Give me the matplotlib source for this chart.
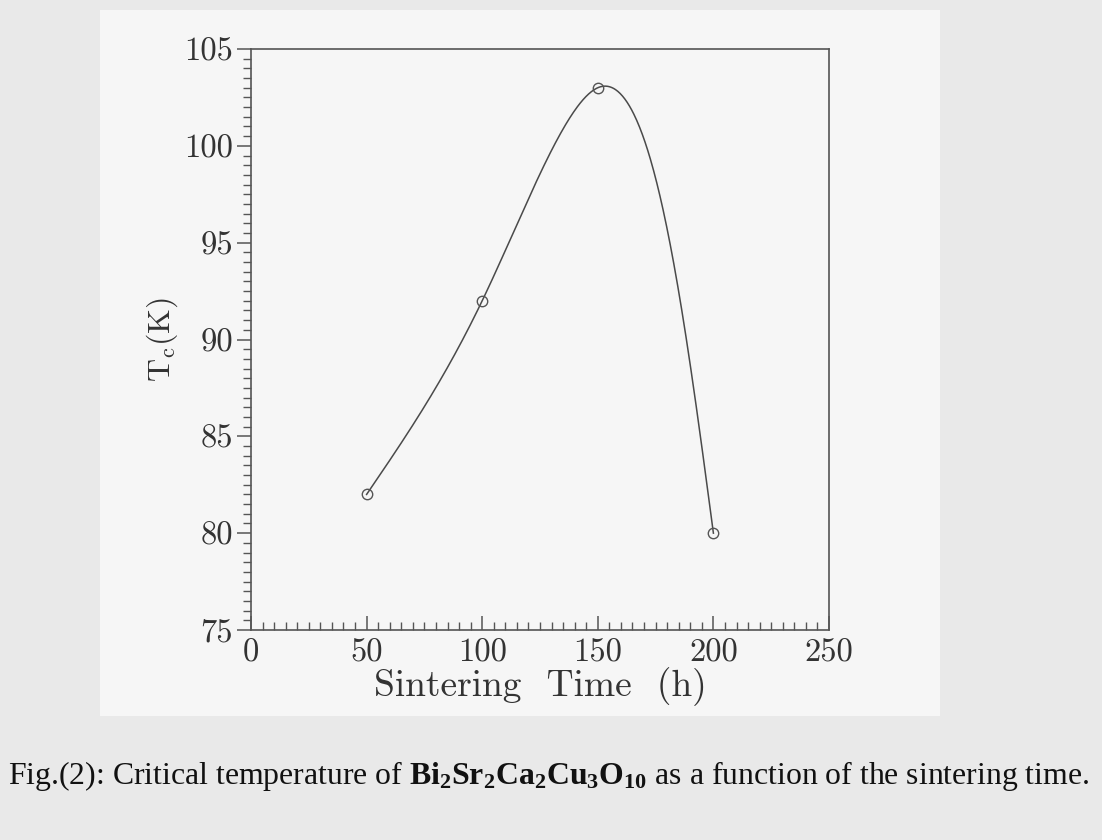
import numpy as np
import matplotlib
matplotlib.use('Agg')
import matplotlib.pyplot as plt
from matplotlib.patches import Rectangle
from matplotlib.ticker import MultipleLocator

sinter_time = [50, 100, 150, 200]
tc_values = [82, 92, 103, 80]

x_ticks = [0, 50, 100, 150, 200, 250]
y_ticks = [75, 80, 85, 90, 95, 100, 105]

caption = (r'Fig.(2): Critical temperature of '
           r'$\mathbf{Bi_2Sr_2Ca_2Cu_3O_{10}}$'
           r' as a function of the sintering time.')


def natural_spline(t, v, tt):
    # plain natural cubic spline, t must be increasing
    n = len(t)
    h = np.diff(t)
    A = np.zeros((n, n))
    b = np.zeros(n)
    A[0, 0] = A[-1, -1] = 1.0
    for i in range(1, n - 1):
        A[i, i - 1] = h[i - 1]
        A[i, i] = 2 * (h[i - 1] + h[i])
        A[i, i + 1] = h[i]
        b[i] = 6 * ((v[i + 1] - v[i]) / h[i] - (v[i] - v[i - 1]) / h[i - 1])
    M = np.linalg.solve(A, b)
    idx = np.clip(np.searchsorted(t, tt) - 1, 0, n - 2)
    t0, t1 = t[idx], t[idx + 1]
    hh = t1 - t0
    return (M[idx] * (t1 - tt) ** 3 / (6 * hh)
            + M[idx + 1] * (tt - t0) ** 3 / (6 * hh)
            + (v[idx] / hh - M[idx] * hh / 6) * (t1 - tt)
            + (v[idx + 1] / hh - M[idx + 1] * hh / 6) * (tt - t0))


def smooth_curve(x, y, xr, yr, alpha=0.75, npts=400):
    # parametric spline through the points (chord length ** alpha)
    x = np.asarray(x, float)
    y = np.asarray(y, float)
    px = (x - xr[0]) / (xr[1] - xr[0])
    py = (y - yr[0]) / (yr[1] - yr[0])
    d = np.hypot(np.diff(px), np.diff(py)) ** alpha
    t = np.concatenate([[0], np.cumsum(d)])
    tt = np.linspace(0, t[-1], npts)
    sx = natural_spline(t, px, tt)
    sy = natural_spline(t, py, tt)
    return (xr[0] + sx * (xr[1] - xr[0]),
            yr[0] + sy * (yr[1] - yr[0]))


plt.rcParams['mathtext.fontset'] = 'custom'
plt.rcParams['mathtext.rm'] = 'Liberation Serif'
plt.rcParams['mathtext.bf'] = 'Liberation Serif:bold'

fig = plt.figure(figsize=(11.02, 8.4), dpi=100, facecolor='#e9e9e9')

# the pasted paper sheet behind the plot
sheet = Rectangle((100 / 1102, 1 - 716 / 840), 840 / 1102, 706 / 840,
                  transform=fig.transFigure, facecolor='#f6f6f6',
                  edgecolor='none', zorder=-5)
fig.patches.append(sheet)

ax = fig.add_axes([251 / 1102, 1 - 630 / 840, 578 / 1102, 581 / 840])
ax.set_facecolor('none')
ax.set_zorder(3)

xr = (0, 250)
yr = (75, 105)
cx, cy = smooth_curve(sinter_time, tc_values, xr, yr)
ax.plot(cx, cy, color='#4a4a4a', lw=1.1)
ax.plot(sinter_time, tc_values, 'o', mfc='none', mec='#555555',
        ms=7.5, mew=1.0)

ax.set_xlim(*xr)
ax.set_ylim(*yr)
ax.set_xticks(x_ticks)
ax.set_yticks(y_ticks)
ax.xaxis.set_minor_locator(MultipleLocator(5))
ax.yaxis.set_minor_locator(MultipleLocator(0.5))

for side in ax.spines.values():
    side.set_color('#555555')
    side.set_linewidth(1.2)

ax.tick_params(axis='x', which='major', direction='in', length=10,
               width=1.1, color='#555555', pad=6)
ax.tick_params(axis='x', which='minor', direction='in', length=6,
               width=1.0, color='#555555')
ax.tick_params(axis='y', which='major', direction='out', length=10,
               width=1.1, color='#555555', pad=3)
ax.tick_params(axis='y', which='minor', direction='out', length=6,
               width=1.0, color='#555555')

for lab in ax.get_xticklabels() + ax.get_yticklabels():
    lab.set_family('cmr10')
    lab.set_fontsize(23.5)
    lab.set_color('#333333')

ax.set_xlabel('Sintering  Time  (h)', family='cmr10', fontsize=27,
              color='#333333', labelpad=0)
ax.set_ylabel(r'$\mathrm{T_c(K)}$', fontsize=23, color='#333333',
              math_fontfamily='cm', labelpad=3)

fig.text(8 / 1102, 1 - 776 / 840, caption, family='Liberation Serif',
         fontsize=22.9, color='#111111', va='center', ha='left',
         math_fontfamily='custom')

plt.savefig('out.png', dpi=100, facecolor=fig.get_facecolor())
